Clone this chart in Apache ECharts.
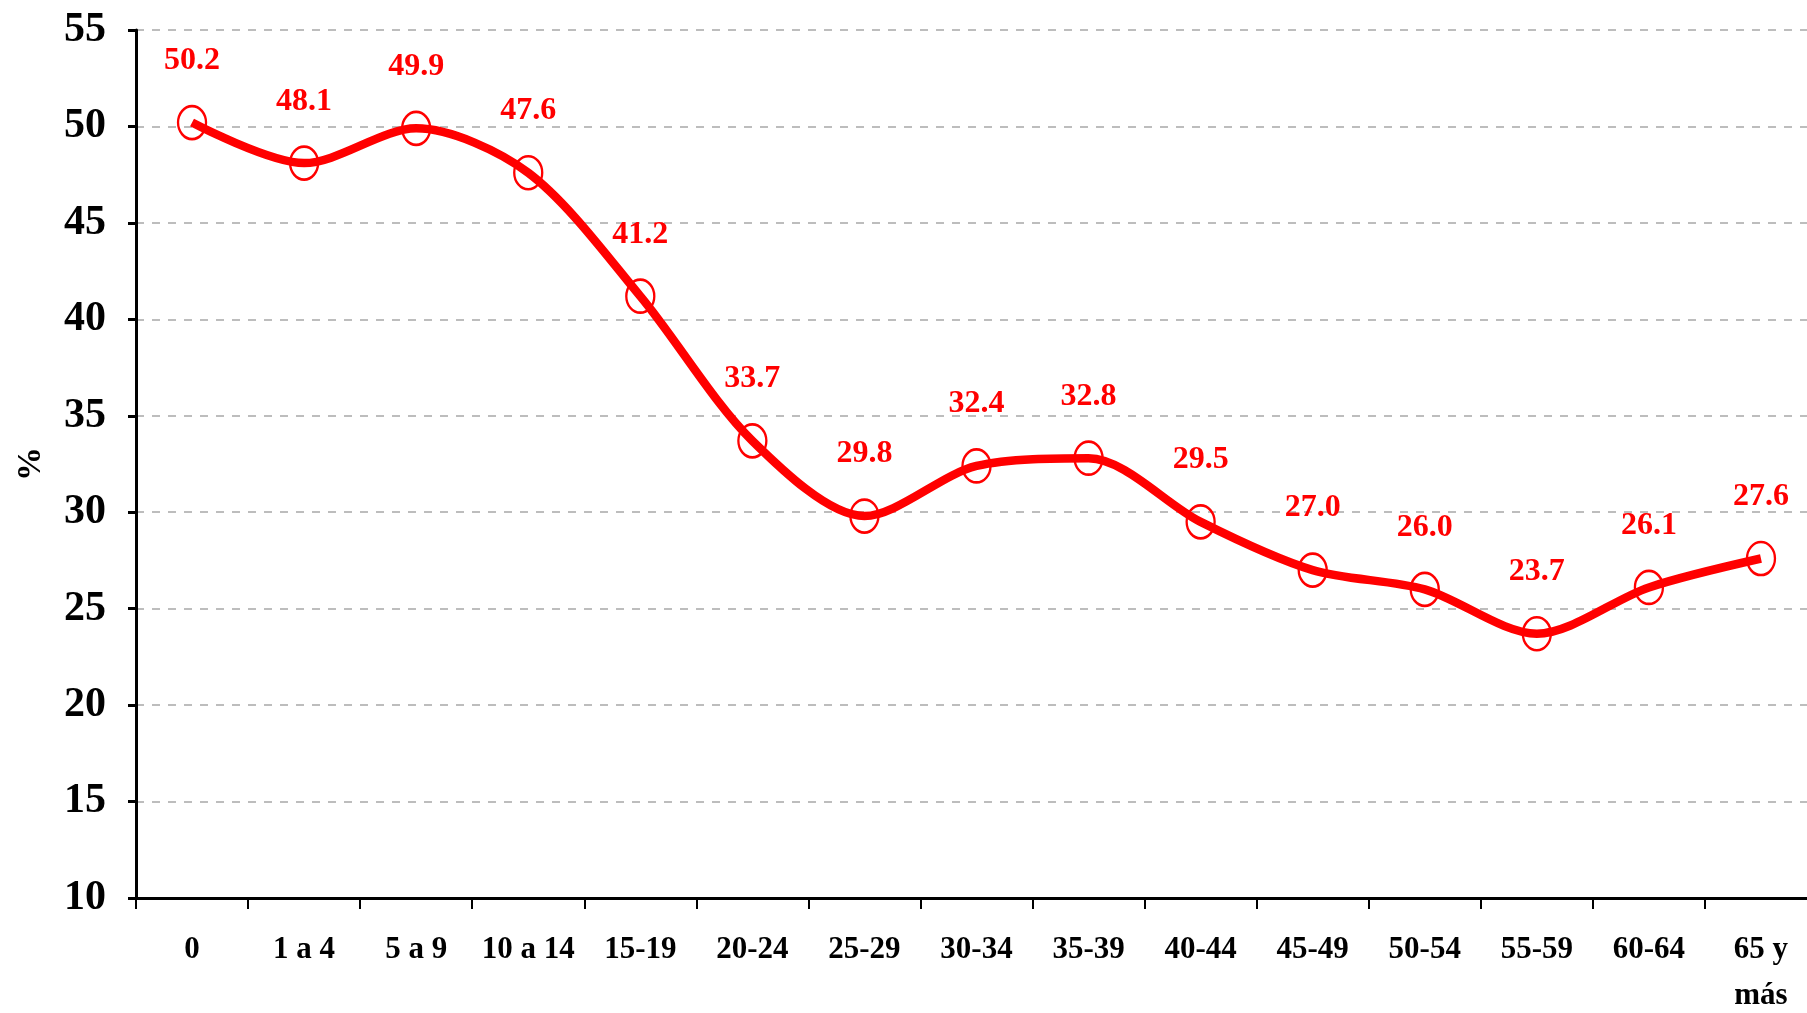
<!DOCTYPE html>
<html>
<head>
<meta charset="utf-8">
<script src="https://cdn.jsdelivr.net/npm/echarts@6/dist/echarts.min.js"></script>
<style>
  html, body { margin: 0; padding: 0; background: #fff; }
  #chart { width: 1807px; height: 1013px; }
</style>
</head>
<body>
<div id="chart"></div>
<script>
  // grupos de edad y porcentajes
  var categorias = ['0', '1 a 4', '5 a 9', '10 a 14', '15-19', '20-24', '25-29', '30-34',
    '35-39', '40-44', '45-49', '50-54', '55-59', '60-64', '65 y\nmás'];
  var valores = [50.2, 48.1, 49.9, 47.6, 41.2, 33.7, 29.8, 32.4, 32.8, 29.5, 27.0, 26.0, 23.7, 26.1, 27.6];
  var yMin = 10, yMax = 55, yPaso = 5;

  var fuente = '"Liberation Serif", "Times New Roman", serif';
  var chart = echarts.init(document.getElementById('chart'));
  chart.setOption({
    animation: false,
    backgroundColor: '#fff',
    grid: { left: 136, right: -10, top: 30, bottom: 115, outerBoundsMode: 'none' },
    xAxis: {
      type: 'category',
      data: categorias,
      boundaryGap: true,
      axisLine: { lineStyle: { color: '#000', width: 3 } },
      axisTick: { show: true, length: 11, lineStyle: { color: '#000', width: 2 } },
      axisLabel: {
        color: '#000', fontFamily: fuente, fontWeight: 'bold', fontSize: 31,
        margin: 29, lineHeight: 46, interval: 0
      },
      splitLine: { show: false }
    },
    yAxis: {
      type: 'value',
      min: yMin, max: yMax, interval: yPaso,
      name: '%',
      nameLocation: 'middle',
      nameGap: 88,
      nameTextStyle: { color: '#000', fontFamily: fuente, fontWeight: 'bold', fontSize: 34 },
      axisLine: { show: true, lineStyle: { color: '#000', width: 3 } },
      axisTick: { show: true, length: 8, lineStyle: { color: '#000', width: 3 } },
      axisLabel: {
        color: '#000', fontFamily: fuente, fontWeight: 'bold', fontSize: 42, margin: 30
      },
      splitLine: { show: true, lineStyle: { color: '#bdbdbd', width: 2, type: [8, 8] } }
    },
    series: [{
      type: 'line',
      data: valores,
      smooth: 0.3,
      symbol: 'circle',
      symbolSize: [28, 33],
      itemStyle: { color: 'rgba(0,0,0,0)', borderColor: '#ff0000', borderWidth: 2.5 },
      lineStyle: { color: '#ff0000', width: 8.5 },
      label: {
        show: true, position: 'top', distance: 28,
        color: '#ff0000', fontFamily: fuente, fontWeight: 'bold', fontSize: 32,
        formatter: function (p) { return p.value.toFixed(1); }
      },
      z: 3
    }]
  });
</script>
</body>
</html>
